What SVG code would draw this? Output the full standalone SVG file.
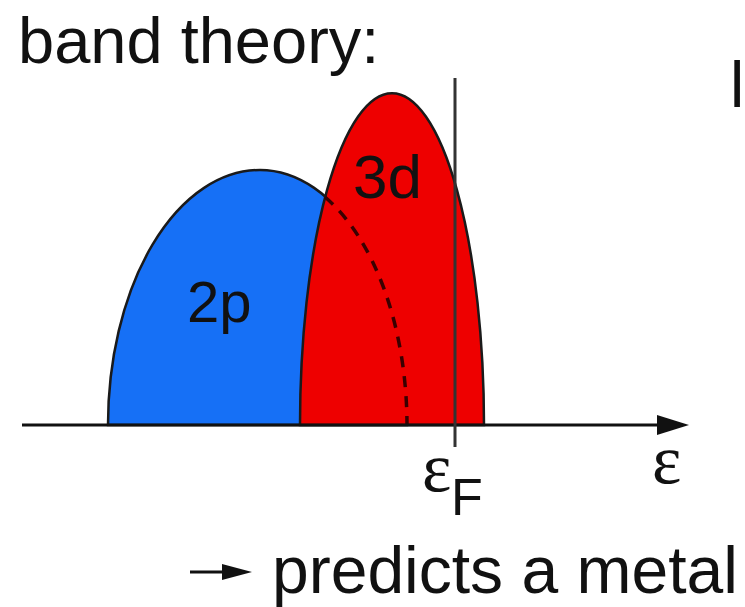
<svg xmlns="http://www.w3.org/2000/svg" width="745" height="607" viewBox="0 0 745 607">
<style>
.t{font-family:"Liberation Sans",Arial,sans-serif;fill:#111}
.s{font-family:"Liberation Serif","Times New Roman",serif;fill:#111}
.band{stroke:#1a1a1a;stroke-width:2.5}
</style>
<rect width="745" height="607" fill="#fff"/>
<text class="t" x="18" y="63" font-size="65">band theory:</text>
<text class="t" x="730" y="107" font-size="64">l</text>
<g id="band2p">
<path class="band" d="M108,425 A152,255 0 0 1 260,170 A147,255 0 0 1 407,425 Z" fill="#1670f6"/>
<text class="t" x="187" y="322" font-size="58">2p</text>
</g>
<g id="band3d">
<path class="band" d="M300,425 A92,332 0 0 1 484,425 Z" fill="#ee0000"/>
<path d="M325,197 A147,255 0 0 1 407,425" fill="none" stroke="#3a0000" stroke-width="3.5" stroke-dasharray="11,9"/>
<text class="t" x="353" y="198" font-size="62">3d</text>
</g>
<g id="connectors">
<line x1="22" y1="425" x2="660" y2="425" stroke="#111" stroke-width="3"/>
<path d="M657,415 L689,425 L657,435 Z" fill="#111"/>
<line x1="455" y1="78" x2="455" y2="447" stroke="#333" stroke-width="3"/>
<line x1="190" y1="572" x2="228" y2="572" stroke="#111" stroke-width="3"/>
<path d="M222,564 L252,572 L222,580 Z" fill="#111"/>
</g>
<g id="labels">
<text class="s" x="422" y="491" font-size="70">ε</text>
<text class="t" x="451" y="515" font-size="52">F</text>
<text class="s" x="652" y="483" font-size="70">ε</text>
<text class="t" x="272" y="593" font-size="66">predicts a metal</text>
</g>
</svg>
